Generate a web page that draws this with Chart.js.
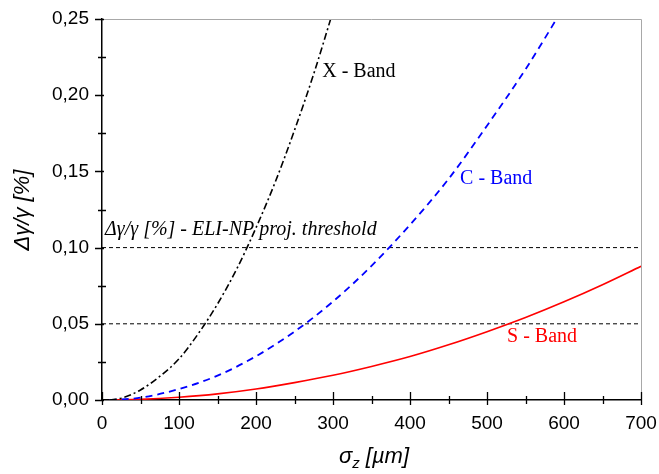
<!DOCTYPE html>
<html>
<head>
<meta charset="utf-8">
<script src="https://cdn.jsdelivr.net/npm/chart.js@4.4.1/dist/chart.umd.min.js"></script>
<style>
  html, body { margin: 0; padding: 0; background: #fff; }
  #wrap { width: 659px; height: 474px; }
</style>
</head>
<body>
<div id="wrap"><canvas id="chart" width="659" height="474"></canvas></div>
<script>
// 数据 (σz in µm, Δγ/γ in %)
const sigmaX = [10, 25, 50, 75, 100, 125, 150, 175, 200, 225, 250, 275, 300];
const xBand = [0, 0.0012, 0.0066, 0.0155, 0.027, 0.0435, 0.063, 0.086, 0.113, 0.143, 0.177, 0.214, 0.255];

const sigmaC = [10, 50, 100, 150, 200, 250, 300, 350, 400, 450, 500, 550, 600];
const cBand = [0, 0.0015, 0.0072, 0.016, 0.0287, 0.0449, 0.0646, 0.088, 0.115, 0.145, 0.18, 0.217, 0.258];

const sigmaS = [10, 50, 100, 150, 200, 250, 300, 350, 400, 450, 500, 550, 600, 650, 700];
const sBand = [0, 0.0004, 0.0018, 0.004, 0.0072, 0.0114, 0.0162, 0.022, 0.0285, 0.0362, 0.0448, 0.0541, 0.0644, 0.0756, 0.0877];

const thresholdSigma = [0, 700];
const thresholdHigh = [0.10, 0.10];
const thresholdLow = [0.05, 0.05];

const xTicks = [0, 100, 200, 300, 400, 500, 600, 700];
const yTicks = [0, 0.05, 0.10, 0.15, 0.20, 0.25];

// 曲线旁的文字 [text, sigma, value, color, italic]
const notes = [
    ['X - Band', 286, 0.212, '#000', false],
    ['C - Band', 465, 0.1417, '#0000ff', false],
    ['S - Band', 526, 0.038, '#ff0000', false],
    ['Δγ/γ [%] - ELI-NP proj. threshold', 4, 0.108, '#000', true]
];

function toPoints(xs, ys) {
    return xs.map((x, i) => ({ x: x, y: ys[i] }));
}

// 刻度、边框、轴标题和注释
const decorPlugin = {
    id: 'decor',
    afterDraw(chart) {
        const ctx = chart.ctx;
        const area = chart.chartArea;
        const xs = chart.scales.x;
        const ys = chart.scales.y;
        ctx.save();

        // 上边和右边的灰色框
        ctx.strokeStyle = '#a8a8a8';
        ctx.lineWidth = 1;
        ctx.beginPath();
        ctx.moveTo(area.left, area.top + 0.5);
        ctx.lineTo(area.right + 0.5, area.top + 0.5);
        ctx.lineTo(area.right + 0.5, area.bottom);
        ctx.stroke();

        // 刻度线
        ctx.strokeStyle = '#000';
        ctx.lineWidth = 1.3;
        ctx.beginPath();
        for (let v = 0; v <= 700; v += 50) {
            const px = Math.round(xs.getPixelForValue(v)) + 0.5;
            const major = v % 100 === 0;
            ctx.moveTo(px, area.bottom - (major ? 8 : 4));
            ctx.lineTo(px, area.bottom + (major ? 5 : 4));
        }
        for (let i = 0; i <= 10; i++) {
            const v = i * 0.025;
            const py = Math.round(ys.getPixelForValue(v)) + 0.5;
            const major = i % 2 === 0;
            ctx.moveTo(area.left - (major ? 7 : 4), py);
            ctx.lineTo(area.left + (major ? 2 : 4), py);
        }
        ctx.stroke();

        // 注释文字
        ctx.textBaseline = 'alphabetic';
        ctx.textAlign = 'left';
        notes.forEach(([text, sx, sy, color, italic]) => {
            ctx.fillStyle = color;
            ctx.font = (italic ? 'italic ' : '') + '20px "Liberation Serif"';
            ctx.fillText(text, xs.getPixelForValue(sx), ys.getPixelForValue(sy));
        });

        // y 轴标题
        ctx.fillStyle = '#000';
        ctx.save();
        ctx.translate(23, 210);
        ctx.rotate(-Math.PI / 2);
        ctx.font = 'italic 22px "Liberation Sans"';
        ctx.textAlign = 'center';
        ctx.textBaseline = 'middle';
        ctx.fillText('Δγ/γ [%]', 0, 0);
        ctx.restore();

        // x 轴标题 σz [µm]
        const mainFont = 'italic 22px "Liberation Sans"';
        const subFont = 'italic 15px "Liberation Sans"';
        ctx.font = mainFont;
        const wSigma = ctx.measureText('σ').width;
        const wRest = ctx.measureText(' [µm]').width;
        ctx.font = subFont;
        const wSub = ctx.measureText('z').width;
        let tx = 374 - (wSigma + wSub + wRest) / 2;
        const base = 463;
        ctx.font = mainFont;
        ctx.fillText('σ', tx, base);
        tx += wSigma;
        ctx.font = subFont;
        ctx.fillText('z', tx, base + 5);
        tx += wSub;
        ctx.font = mainFont;
        ctx.fillText(' [µm]', tx, base);

        ctx.restore();
    }
};

const ctx = document.getElementById('chart').getContext('2d');
new Chart(ctx, {
    type: 'line',
    data: {
        datasets: [{
            label: 'X - Band',
            data: toPoints(sigmaX, xBand),
            borderColor: '#000',
            borderWidth: 1.6,
            borderDash: [7, 3, 2, 3],
            pointRadius: 0,
            cubicInterpolationMode: 'monotone'
        }, {
            label: 'C - Band',
            data: toPoints(sigmaC, cBand),
            borderColor: '#0000ff',
            borderWidth: 1.8,
            borderDash: [7, 5],
            pointRadius: 0,
            cubicInterpolationMode: 'monotone'
        }, {
            label: 'S - Band',
            data: toPoints(sigmaS, sBand),
            borderColor: '#ff0000',
            borderWidth: 1.6,
            pointRadius: 0,
            cubicInterpolationMode: 'monotone'
        }, {
            label: 'threshold 0.10',
            data: toPoints(thresholdSigma, thresholdHigh),
            borderColor: '#000',
            borderWidth: 1,
            borderDash: [4, 3],
            pointRadius: 0
        }, {
            label: 'threshold 0.05',
            data: toPoints(thresholdSigma, thresholdLow),
            borderColor: '#000',
            borderWidth: 1,
            borderDash: [4, 3],
            pointRadius: 0
        }]
    },
    options: {
        responsive: false,
        animation: false,
        layout: { padding: { top: 19, right: 18, left: 0, bottom: 0 } },
        plugins: {
            legend: { display: false },
            tooltip: { enabled: false }
        },
        scales: {
            x: {
                type: 'linear',
                min: 0,
                max: 700,
                afterFit: scale => {
                    scale.height = 74;
                    scale.paddingLeft = 0;
                    scale.paddingRight = 0;
                },
                afterBuildTicks: scale => { scale.ticks = xTicks.map(v => ({ value: v })); },
                ticks: {
                    padding: 12,
                    color: '#000',
                    font: { family: 'Liberation Sans', size: 19 },
                    callback: v => String(v)
                },
                grid: { display: false, drawTicks: false },
                border: { display: true, color: '#000', width: 1.5 }
            },
            y: {
                type: 'linear',
                min: 0,
                max: 0.25,
                afterFit: scale => {
                    scale.width = 102;
                    scale.paddingTop = 0;
                    scale.paddingBottom = 0;
                },
                afterBuildTicks: scale => { scale.ticks = yTicks.map(v => ({ value: v })); },
                ticks: {
                    padding: 13,
                    color: '#000',
                    font: { family: 'Liberation Sans', size: 19 },
                    callback: v => v.toFixed(2).replace('.', ',')
                },
                grid: { display: false, drawTicks: false },
                border: { display: true, color: '#000', width: 1.5 }
            }
        }
    },
    plugins: [decorPlugin]
});
</script>
</body>
</html>
